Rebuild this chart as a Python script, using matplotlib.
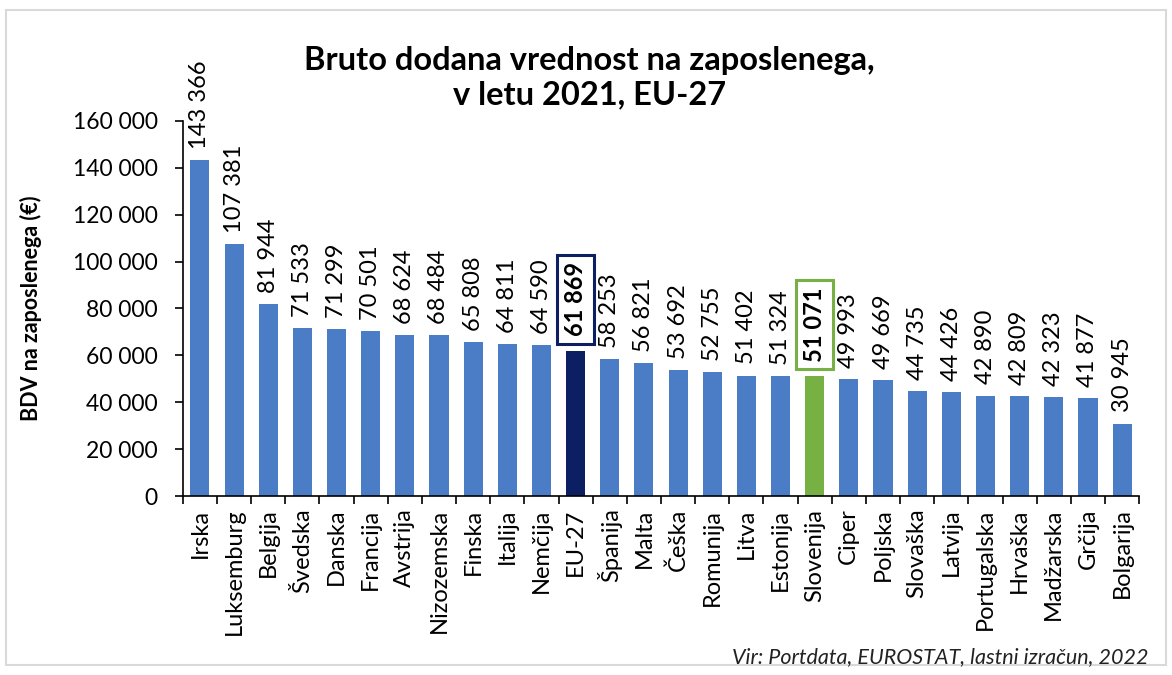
import matplotlib.pyplot as plt
from matplotlib.patches import Rectangle

# podatki
drzave = ['Irska', 'Luksemburg', 'Belgija', 'Švedska', 'Danska', 'Francija',
          'Avstrija', 'Nizozemska', 'Finska', 'Italija', 'Nemčija', 'EU-27',
          'Španija', 'Malta', 'Češka', 'Romunija', 'Litva', 'Estonija',
          'Slovenija', 'Ciper', 'Poljska', 'Slovaška', 'Latvija', 'Portugalska',
          'Hrvaška', 'Madžarska', 'Grčija', 'Bolgarija']
bdv = [143366, 107381, 81944, 71533, 71299, 70501, 68624, 68484, 65808,
       64811, 64590, 61869, 58253, 56821, 53692, 52755, 51402, 51324,
       51071, 49993, 49669, 44735, 44426, 42890, 42809, 42323, 41877, 30945]
yticks = [0, 20000, 40000, 60000, 80000, 100000, 120000, 140000, 160000]

plt.rcParams['font.family'] = ['Lato', 'DejaVu Sans']

MODRA = '#4a7dc5'
EU_BARVA = '#0c1f63'
SLO_BARVA = '#77b144'


def fmt(v):
    return f'{v:,}'.replace(',', ' ')


barve = []
for d in drzave:
    if d == 'EU-27':
        barve.append(EU_BARVA)
    elif d == 'Slovenija':
        barve.append(SLO_BARVA)
    else:
        barve.append(MODRA)

fig = plt.figure(figsize=(11.72, 6.75), dpi=100)
ax = fig.add_axes([0.156, 0.265, 0.816, 0.556])

x = list(range(len(drzave)))
ax.bar(x, bdv, width=0.56, color=barve, zorder=2)

for i, (d, v) in enumerate(zip(drzave, bdv)):
    if d == 'EU-27' or d == 'Slovenija':
        ec = EU_BARVA if d == 'EU-27' else SLO_BARVA
        ax.annotate(fmt(v), (i, v), xytext=(0, 10.5), textcoords='offset points',
                    rotation=90, ha='center', va='bottom', fontsize=17,
                    fontweight='bold',
                    bbox=dict(boxstyle='square,pad=0.3', fc='white', ec=ec, lw=2.2))
    else:
        ax.annotate(fmt(v), (i, v), xytext=(0, 8), textcoords='offset points',
                    rotation=90, ha='center', va='bottom', fontsize=17)

ax.set_xlim(-0.5, len(drzave) - 0.5)
ax.set_ylim(0, 160000)
ax.set_yticks(yticks)
ax.set_yticklabels([fmt(t) for t in yticks], fontsize=16.5)
ax.set_xticks(x)
ax.set_xticklabels(drzave, rotation=90, fontsize=17)
ax.tick_params(axis='x', which='major', length=0, pad=9)
ax.set_xticks([i - 0.5 for i in range(len(drzave) + 1)], minor=True)
ax.tick_params(axis='x', which='minor', length=6, width=1.2)
ax.tick_params(axis='y', length=6, width=1.2, pad=12)

for s in ['top', 'right']:
    ax.spines[s].set_visible(False)
ax.spines['left'].set_linewidth(1.2)
ax.spines['bottom'].set_linewidth(1.2)

ax.set_ylabel('BDV na zaposlenega (€)', fontsize=15.5, fontweight='bold')
ax.yaxis.set_label_coords(-0.147, 0.5)

fig.text(0.503, 0.885, 'Bruto dodana vrednost na zaposlenega,\nv letu 2021, EU-27',
         ha='center', va='center', fontsize=23.5, fontweight='bold', linespacing=1.25)
fig.text(0.98, 0.027, 'Vir: Portdata, EUROSTAT, lastni izračun, 2022',
         ha='right', va='center', fontsize=15.5, style='italic', color='#222222')

# okvir slike
fig.patches.append(Rectangle((0.005, 0.015), 0.99, 0.97, transform=fig.transFigure,
                             fill=False, ec='#d9d9d9', lw=1.5))

fig.savefig('out.png', dpi=100)
